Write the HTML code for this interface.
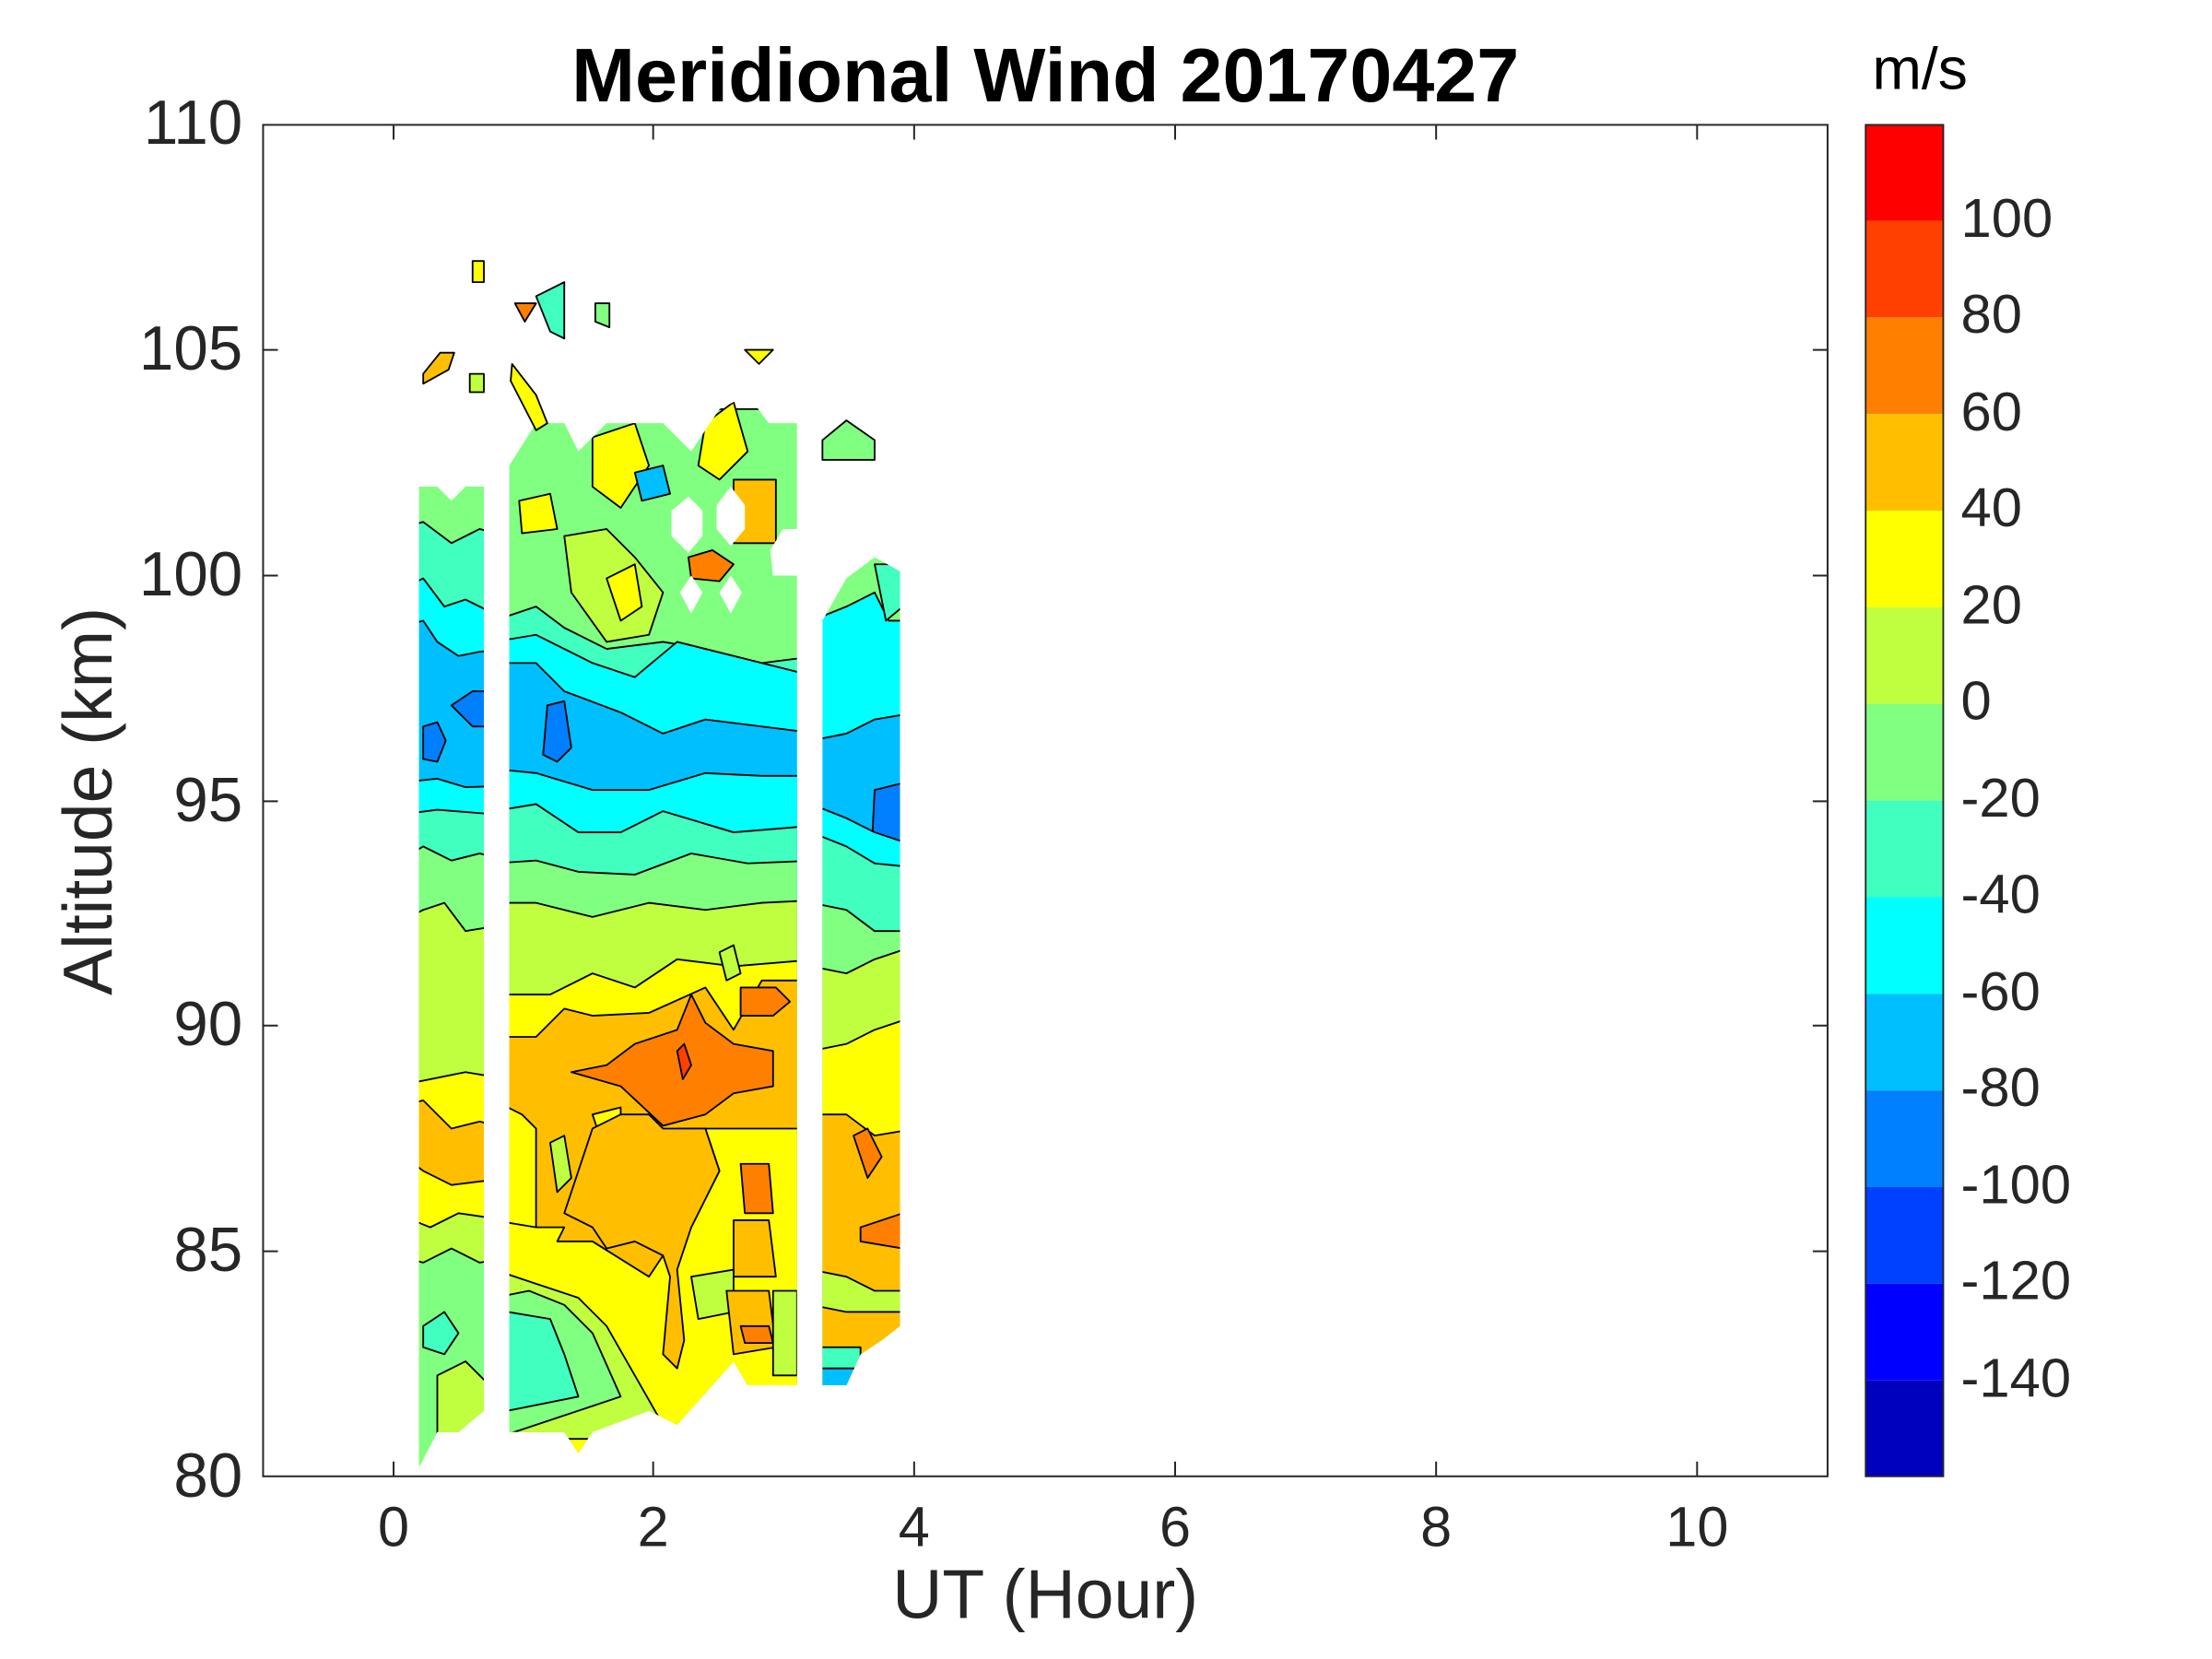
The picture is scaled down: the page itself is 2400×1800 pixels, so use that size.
<!DOCTYPE html>
<html><head><meta charset="utf-8"><style>html,body{margin:0;padding:0;background:#fff}svg{display:block}</style></head>
<body>
<svg width="2400" height="1800" viewBox="0 0 1568 1176" xmlns="http://www.w3.org/2000/svg" font-family="Liberation Sans, Arial, sans-serif">
<defs>
<clipPath id="c1"><polygon points="297,345 310,345 320,355 330,345 343,345 343,1000 325,1015 310,1015 297,1040"/></clipPath>
<clipPath id="c2"><polygon points="361,330 380,300 400,300 410,320 430,300 470,300 490,320 510,290 530,280 545,300 565,300 565,982 530,982 520,965 480,1010 460,1000 420,1015 410,1030 400,1015 361,1015"/></clipPath>
<clipPath id="c3"><polygon points="583,440 600,410 620,395 638,405 638,940 625,950 610,960 600,982 583,982"/></clipPath>
</defs>
<g stroke="#000" stroke-width="1.2" stroke-linejoin="round">
<g clip-path="url(#c1)">
<polygon fill="#80FF80" points="280,340 360,340 360,1050 280,1050"/>
<polygon fill="#40FFBF" points="280,375 300,370 320,385 340,375 360,380 360,1050 280,1050"/>
<polygon fill="#00FFFF" points="280,420 300,410 315,430 330,425 360,440 360,1050 280,1050"/>
<polygon fill="#00BFFF" points="280,445 300,440 310,455 325,465 340,462 360,460 360,1050 280,1050"/>
<polygon fill="#0080FF" points="300,515 310,512 316,525 310,540 300,538"/>
<polygon fill="#0080FF" points="320,500 335,490 360,490 360,515 335,515"/>
<polygon fill="#00FFFF" points="280,555 310,552 330,558 360,557 360,1050 280,1050"/>
<polygon fill="#40FFBF" points="280,578 310,574 360,578 360,1050 280,1050"/>
<polygon fill="#80FF80" points="280,612 300,600 320,610 340,605 360,610 360,1050 280,1050"/>
<polygon fill="#BFFF40" points="280,655 300,645 315,640 330,660 360,655 360,1050 280,1050"/>
<polygon fill="#FFFF00" points="280,770 305,765 330,760 360,765 360,1050 280,1050"/>
<polygon fill="#FFBF00" points="280,785 300,780 320,800 340,795 360,800 360,1050 280,1050"/>
<polygon fill="#FFFF00" points="280,815 300,830 320,840 360,835 360,1050 280,1050"/>
<polygon fill="#BFFF40" points="280,860 305,870 325,860 360,865 360,1050 280,1050"/>
<polygon fill="#80FF80" points="280,890 300,895 320,885 340,895 360,892 360,1050 280,1050"/>
<polygon fill="#40FFBF" points="300,940 315,930 325,945 315,960 300,955"/>
<polygon fill="#BFFF40" points="310,975 330,965 345,980 345,1050 310,1050"/>
</g>
<g clip-path="url(#c2)">
<polygon fill="#80FF80" points="350,290 580,290 580,1050 350,1050"/>
<polygon fill="#FFFF00" points="368,355 390,350 395,375 370,378"/>
<polygon fill="#FFFF00" points="500,300 520,285 530,320 510,340 495,330"/>
<polygon fill="#FFBF00" points="520,340 550,340 550,385 520,385"/>
<polygon fill="#FFFF00" points="420,310 450,300 460,330 440,360 420,345"/>
<polygon fill="#00BFFF" points="450,335 470,330 475,350 455,355"/>
<polygon fill="#FF8000" points="488,395 505,390 520,400 510,412 490,410"/>
<polygon fill="#BFFF40" points="400,380 430,375 450,395 470,420 460,450 430,455 405,420"/>
<polygon fill="#FFFF00" points="430,410 450,400 455,430 440,440"/>
<polygon fill="#40FFBF" points="350,440 380,430 400,445 430,460 470,455 500,460 540,470 580,465 580,1050 350,1050"/>
<polygon fill="#00FFFF" points="350,455 380,450 420,470 450,480 480,455 520,465 560,475 580,480 580,1050 350,1050"/>
<polygon fill="#00BFFF" points="350,470 380,470 400,490 440,505 470,520 500,510 540,515 580,520 580,1050 350,1050"/>
<polygon fill="#0080FF" points="388,500 400,497 405,530 395,540 385,535"/>
<polygon fill="#0080FF" points="402,568 412,562 420,570 410,583"/>
<polygon fill="#00FFFF" points="350,545 380,548 420,560 460,560 500,548 540,550 580,550 580,1050 350,1050"/>
<polygon fill="#40FFBF" points="350,575 380,570 410,590 440,590 470,575 520,590 580,585 580,1050 350,1050"/>
<polygon fill="#80FF80" points="350,612 380,610 410,618 450,620 490,605 530,612 580,610 580,1050 350,1050"/>
<polygon fill="#BFFF40" points="350,640 380,640 420,650 460,640 500,645 540,640 580,638 580,1050 350,1050"/>
<polygon fill="#FFFF00" points="350,705 390,705 420,690 450,700 480,680 520,685 580,680 580,1050 350,1050"/>
<polygon fill="#BFFF40" points="510,675 520,670 525,690 515,695"/>
<polygon fill="#FFBF00" points="350,735 380,735 400,715 420,720 460,718 500,700 520,730 540,695 580,695 580,1050 350,1050"/>
<polygon fill="#FF8000" points="405,760 430,755 450,740 480,730 490,705 500,725 520,740 548,745 548,770 520,775 500,790 470,798 440,770"/>
<polygon fill="#FF4000" points="480,745 485,740 490,755 484,765"/>
<polygon fill="#FF8000" points="525,700 550,700 560,710 548,720 525,720"/>
<polygon fill="#FFFF00" points="350,780 370,790 380,800 380,870 350,870"/>
<polygon fill="#BFFF40" points="390,810 400,805 405,835 395,845"/>
<polygon fill="#FFFF00" points="420,790 440,785 440,800 425,805"/>
<polygon fill="#FFFF00" points="480,800 500,800 510,830 500,850 490,870 470,890 460,905 420,880 395,880 400,870 380,870 350,865 350,1050 580,1050 580,800"/>
<polygon fill="#FFBF00" points="400,860 420,870 430,885 450,880 470,890 475,905 470,960 480,970 485,950 480,900 490,870 500,850 510,830 500,800 490,800 470,800 460,790 440,790 420,800 410,830"/>
<polygon fill="#FF8000" points="525,825 545,825 548,860 528,860"/>
<polygon fill="#FFBF00" points="520,865 545,865 550,905 520,905"/>
<polygon fill="#BFFF40" points="350,900 380,910 410,920 430,940 450,975 470,1010 440,1020 350,1020"/>
<polygon fill="#80FF80" points="350,920 375,915 400,925 420,945 440,990 350,1020"/>
<polygon fill="#40FFBF" points="360,930 390,935 400,960 410,990 360,1000"/>
<polygon fill="#BFFF40" points="490,905 520,900 520,930 495,935"/>
<polygon fill="#FFBF00" points="515,915 545,915 550,955 520,960"/>
<polygon fill="#FF8000" points="525,940 545,940 548,952 528,952"/>
<polygon fill="#BFFF40" points="548,915 565,915 565,975 548,975"/>
</g>
<g clip-path="url(#c3)">
<polygon fill="#80FF80" points="575,390 650,390 650,1000 575,1000"/>
<polygon fill="#00FFFF" points="575,440 600,430 620,420 630,440 650,440 650,1000 575,1000"/>
<polygon fill="#40FFBF" points="620,400 640,400 640,430 628,440"/>
<polygon fill="#00BFFF" points="575,525 600,520 620,510 650,505 650,1000 575,1000"/>
<polygon fill="#0080FF" points="620,560 640,555 640,605 618,600"/>
<polygon fill="#00FFFF" points="575,570 600,580 620,590 650,600 650,1000 575,1000"/>
<polygon fill="#40FFBF" points="575,590 600,600 620,612 650,615 650,1000 575,1000"/>
<polygon fill="#80FF80" points="575,640 600,645 620,660 650,660 650,1000 575,1000"/>
<polygon fill="#BFFF40" points="575,685 600,690 620,680 650,670 650,1000 575,1000"/>
<polygon fill="#FFFF00" points="575,745 600,740 620,730 650,720 650,1000 575,1000"/>
<polygon fill="#FFBF00" points="575,790 600,790 620,805 650,800 650,1000 575,1000"/>
<polygon fill="#FF8000" points="605,805 615,800 625,820 615,835"/>
<polygon fill="#FF8000" points="610,870 640,860 640,885 610,880"/>
<polygon fill="#BFFF40" points="575,900 600,905 620,915 650,915 650,1000 575,1000"/>
<polygon fill="#FFBF00" points="575,925 600,930 650,930 650,1000 575,1000"/>
<polygon fill="#40FFBF" points="575,955 610,955 610,1000 575,1000"/>
<polygon fill="#00BFFF" points="575,970 610,970 610,1000 575,1000"/>
</g>
<g>
<polygon fill="#FFBF00" points="300,265 312,250 322,250 318,262 300,272"/>
<polygon fill="#BFFF40" points="333,265 343,265 343,278 333,278"/>
<polygon fill="#FFFF00" points="335,185 343,185 343,200 335,200"/>
<polygon fill="#FF8000" points="365,215 380,215 372,228"/>
<polygon fill="#40FFBF" points="380,210 400,200 400,240 390,235"/>
<polygon fill="#FFFF00" points="363,258 380,280 388,300 380,305 362,270"/>
<polygon fill="#80FF80" points="422,215 432,215 432,232 422,228"/>
<polygon fill="#80FF80" points="583,312 600,298 620,312 620,326 583,326"/>
<polygon fill="#FFFF00" points="528,248 548,248 538,258"/>
</g>
</g>
<g fill="#fff">
<polygon points="488,352 498,362 498,380 488,392 476,380 476,362"/>
<polygon points="518,345 528,358 528,375 518,387 508,375 508,358"/>
<polygon points="490,408 498,420 490,435 482,420"/>
<polygon points="518,408 526,420 518,435 510,420"/>
<polygon points="555,375 565,375 565,408 548,408 546,390"/>
</g>
<!-- axes -->
<rect x="186.5" y="88.5" width="1109" height="958" fill="none" stroke="#262626" stroke-width="1.3"/>
<g stroke="#262626" stroke-width="1.3">
<path d="M279,1047v-11M463,1047v-11M648,1047v-11M833,1047v-11M1018,1047v-11M1203,1047v-11M279,88v11M463,88v11M648,88v11M833,88v11M1018,88v11M1203,88v11"/>
<path d="M186,248h11M186,408h11M186,568h11M186,727h11M186,887h11M1296,248h-11M1296,408h-11M1296,568h-11M1296,727h-11M1296,887h-11"/>
</g>
<g font-size="40" fill="#262626" text-anchor="middle">
<text x="279" y="1096">0</text><text x="463" y="1096">2</text><text x="648" y="1096">4</text><text x="833" y="1096">6</text><text x="1018" y="1096">8</text><text x="1203" y="1096">10</text>
</g>
<g font-size="44" fill="#262626" text-anchor="end">
<text x="172" y="102">110</text><text x="172" y="262">105</text><text x="172" y="422">100</text><text x="172" y="582">95</text><text x="172" y="741">90</text><text x="172" y="901">85</text><text x="172" y="1061">80</text>
</g>
<text x="741" y="1147" font-size="49" fill="#262626" text-anchor="middle">UT (Hour)</text>
<text transform="translate(79,568) rotate(-90)" font-size="49" fill="#262626" text-anchor="middle">Altitude (km)</text>
<text x="741" y="72" font-size="54" font-weight="bold" fill="#000" text-anchor="middle">Meridional Wind 20170427</text>
<text x="1361" y="63" font-size="42" fill="#000" text-anchor="middle">m/s</text>
<!-- colorbar -->
<g>
<rect x="1322" y="88" width="56" height="68.5" fill="#FF0000"/>
<rect x="1322" y="156.5" width="56" height="68.5" fill="#FF4000"/>
<rect x="1322" y="225" width="56" height="68.5" fill="#FF8000"/>
<rect x="1322" y="293.5" width="56" height="68.5" fill="#FFBF00"/>
<rect x="1322" y="362" width="56" height="68.5" fill="#FFFF00"/>
<rect x="1322" y="430.5" width="56" height="68.5" fill="#BFFF40"/>
<rect x="1322" y="499" width="56" height="68.5" fill="#80FF80"/>
<rect x="1322" y="567.5" width="56" height="68.5" fill="#40FFBF"/>
<rect x="1322" y="636" width="56" height="68.5" fill="#00FFFF"/>
<rect x="1322" y="704.5" width="56" height="68.5" fill="#00BFFF"/>
<rect x="1322" y="773" width="56" height="68.5" fill="#0080FF"/>
<rect x="1322" y="841.5" width="56" height="68.5" fill="#0040FF"/>
<rect x="1322" y="910" width="56" height="68.5" fill="#0000FF"/>
<rect x="1322" y="978.5" width="56" height="68.5" fill="#0000BF"/>
<rect x="1322.5" y="88.5" width="55" height="958" fill="none" stroke="#262626" stroke-width="1.2"/>
</g>
<g font-size="39" fill="#262626">
<text x="1390" y="168">100</text><text x="1390" y="236">80</text><text x="1390" y="305">60</text><text x="1390" y="373">40</text><text x="1390" y="442">20</text><text x="1390" y="510">0</text><text x="1390" y="579">-20</text><text x="1390" y="647">-40</text><text x="1390" y="716">-60</text><text x="1390" y="784">-80</text><text x="1390" y="853">-100</text><text x="1390" y="921">-120</text><text x="1390" y="990">-140</text>
</g>
</svg>
</body></html>
